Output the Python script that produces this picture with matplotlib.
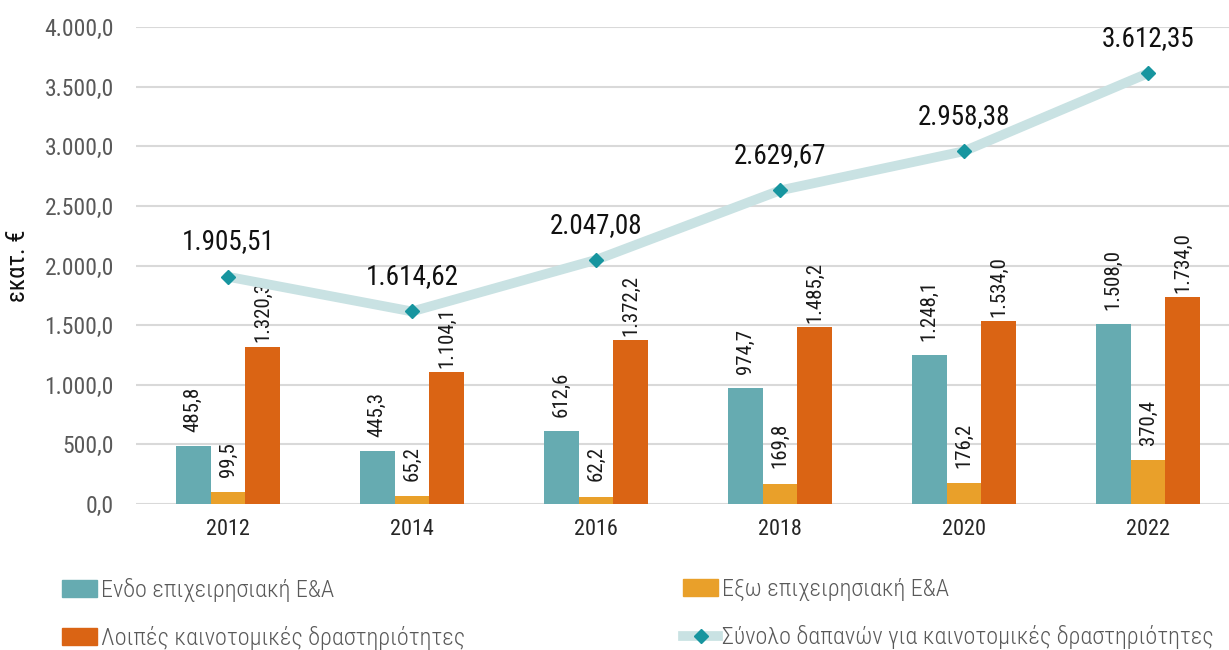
import numpy as np
import matplotlib
matplotlib.use('Agg')
import matplotlib.pyplot as plt
from matplotlib.lines import Line2D
from matplotlib.patches import Patch

plt.rcParams['font.family'] = ['Roboto Condensed', 'DejaVu Sans']

years = ['2012', '2014', '2016', '2018', '2020', '2022']
endo = [485.8, 445.3, 612.6, 974.7, 1248.1, 1508.0]
exo = [99.5, 65.2, 62.2, 169.8, 176.2, 370.4]
loipes = [1320.3, 1104.1, 1372.2, 1485.2, 1534.0, 1734.0]
synolo = [1905.51, 1614.62, 2047.08, 2629.67, 2958.38, 3612.35]

labels = ['Ενδο επιχειρησιακή Ε&Α', 'Εξω επιχειρησιακή Ε&Α',
          'Λοιπές καινοτομικές δραστηριότητες',
          'Σύνολο δαπανών για καινοτομικές δραστηριότητες']
colors = ['#66ABB1', '#E9A02A', '#DA6414']


def gr(v, d):
    s = f'{v:,.{d}f}'
    return s.replace(',', 'X').replace('.', ',').replace('X', '.')


fig = plt.figure(figsize=(12.29, 6.5), dpi=100)
ax = fig.add_axes([136 / 1229, 146 / 650, 1104 / 1229, 477 / 650])

x = np.arange(len(years))
w = 0.19
gaps = [10, 11, 3]
for i, (vals, c) in enumerate(zip([endo, exo, loipes], colors)):
    bars = ax.bar(x + (i - 1) * w, vals, w, color=c, zorder=2)
    for b, v in zip(bars, vals):
        ax.annotate(gr(v, 1), (b.get_x() + b.get_width() / 2, v),
                    xytext=(0, gaps[i]), textcoords='offset points',
                    rotation=90, ha='center', va='bottom',
                    fontsize=15, color='#1a1a1a')

ax.plot(x, synolo, color='#C9E2E3', lw=7, solid_capstyle='round', zorder=3)
ax.plot(x, synolo, ls='none', marker='D', ms=7, color='#17959F', zorder=4)
for xi, v in zip(x, synolo):
    ax.annotate(gr(v, 2), (xi, v), xytext=(0, 25), textcoords='offset points',
                ha='center', va='center', fontsize=19.5, color='#111111')

ax.set_ylim(0, 4000)
ax.set_xlim(-0.5, 5.5)
ax.set_yticks(np.arange(0, 4001, 500))
ax.set_yticklabels([gr(t, 1) for t in np.arange(0, 4001, 500)])
ax.set_xticks(x)
ax.set_xticklabels(years)
ax.yaxis.grid(True, color='#D9D9D9', lw=1.5, zorder=0)
ax.set_axisbelow(True)
for s in ax.spines.values():
    s.set_visible(False)
ax.tick_params(axis='both', length=0)
ax.tick_params(axis='y', labelsize=17, labelcolor='#595959', pad=16)
ax.tick_params(axis='x', labelsize=16, labelcolor='#262626', pad=11)
ax.set_ylabel('εκατ. €', fontsize=18, color='#111111', labelpad=10)

common = dict(frameon=False, prop={'size': 17.5, 'weight': 'light'},
              labelcolor='#595959',
              handlelength=1.45, handleheight=0.7, handletextpad=0.15,
              labelspacing=1.0, borderaxespad=0, borderpad=0)
h_bar1 = Patch(color=colors[0])
h_bar3 = Patch(color=colors[2])
h_bar2 = Patch(color=colors[1])
h_line = Line2D([], [], color='#C9E2E3', lw=7, marker='D', ms=7,
                markerfacecolor='#17959F', markeredgecolor='#17959F')
leg1 = fig.legend([h_bar1, h_bar3], [labels[0], labels[2]], loc='upper left',
                  bbox_to_anchor=(62 / 1229, 1 - 578 / 650), **common)
leg2 = fig.legend([h_bar2, h_line], [labels[1], labels[3]], loc='upper left',
                  bbox_to_anchor=(683 / 1229, 1 - 578 / 650), **common)

fig.savefig('out.png', dpi=100)
